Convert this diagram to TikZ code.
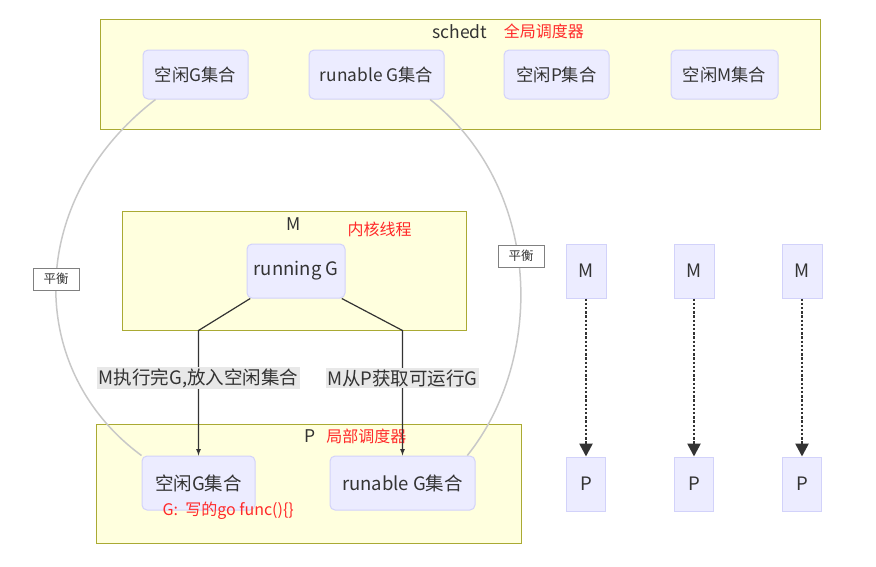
\documentclass[tikz,border=0pt]{standalone}
\usepackage{fontspec}
\setmainfont{Noto Sans CJK SC}
\usetikzlibrary{positioning,arrows.meta}
\definecolor{clfill}{HTML}{FFFFDE}
\definecolor{cldraw}{HTML}{AAAA33}
\definecolor{ndfill}{HTML}{ECECFF}
\definecolor{nddraw}{HTML}{D2D2FA}
\definecolor{txt}{HTML}{333333}
\definecolor{notered}{HTML}{FF2A2A}
\definecolor{lblfill}{HTML}{E8E8E8}
\definecolor{balgray}{HTML}{C8C8C8}

\begin{document}
\begin{tikzpicture}[
x=1pt,y=-1pt,
cluster/.style={
  draw=cldraw,
  fill=clfill,
  line width=1pt,
  inner sep=0pt
  },
cltitle/.style={
  text=txt,
  inner sep=1pt,
  font=\fontsize{17.5}{20}\selectfont
  },
note/.style={
  text=notered,
  inner sep=1pt,
  font=\fontsize{16}{19}\selectfont
  },
set/.style={
  draw=nddraw,
  fill=ndfill,
  rounded corners=5pt,
  line width=1pt,
  text=txt,
  inner sep=0pt,
  minimum height=54pt,
  font=\fontsize{18.5}{21}\selectfont
  },
topset/.style={
  set,
  minimum height=49pt,
  font=\fontsize{17.3}{20}\selectfont
  },
unit/.style={
  set,
  rounded corners=0pt,
  minimum width=40pt
  },
flow/.style={
  draw=txt,
  line width=1.2pt,
  ->
  },
dotflow/.style={
  draw=txt,
  line width=2.6pt,
  dash pattern=on 2.4pt off 1.8pt,
  -{Triangle[width=13pt,length=13pt]}
  },
balance/.style={
  draw=balgray,
  line width=1.5pt
  },
balbox/.style={
  draw=gray,
  fill=white,
  line width=0.8pt,
  text=txt,
  minimum width=46pt,
  minimum height=22pt,
  inner sep=0pt,
  font=\fontsize{12.5}{14}\selectfont
  },
elabel/.style={
  fill=lblfill,
  text=txt,
  inner sep=1.5pt,
  font=\fontsize{18.5}{21}\selectfont
  },
>=latex
]
\useasboundingbox (0,0) rectangle (876,566);

% global scheduler
\node[cluster, minimum width=720pt, minimum height=110pt] (schedt) at (460,74) {};
\node[cltitle, below=5pt of schedt.north] (schedtname) {schedt};
\node[note, right=14pt of schedtname] {全局调度器};
\node[topset, minimum width=105pt] (idleG) at (195.5,74.5) {空闲G集合};
\node[topset, minimum width=135pt, right=60pt of idleG] (runG) {runable G集合};
\node[topset, minimum width=105pt, right=59pt of runG] (idleP) {空闲P集合};
\node[topset, minimum width=107pt, right=61pt of idleP] (idleM) {空闲M集合};

% kernel thread
\node[cluster, minimum width=344pt, minimum height=119pt] (mbox) at (294,270.5) {};
\node[cltitle, below=6pt of mbox.north] (mname) {M};
\node[note, right=44pt of mname, yshift=-5pt] {内核线程};
\node[set, minimum width=98pt] (run) at (296,271) {running G};

% local scheduler
\node[cluster, minimum width=425pt, minimum height=119pt] (pbox) at (308.5,483.5) {};
\node[cltitle, below=5pt of pbox.north, xshift=2pt] (pname) {P};
\node[note, right=8pt of pname] {局部调度器};
\node[set, minimum width=113pt] (idlePG) at (198.5,483) {空闲G集合};
\node[set, minimum width=145pt] (runPG) at (402.5,483) {runable G集合};
\node[note, anchor=west] at ([xshift=20pt]idlePG.south west) {G:\ \ 写的go func()\{\}};

% M -> P pairs
\node[unit] (m1) at (586,271) {M};
\node[unit, right=67pt of m1] (m2) {M};
\node[unit, right=67pt of m2] (m3) {M};
\foreach \i in {1,2,3}
{
  \node[unit, minimum width=39pt, below=158pt of m\i] (p\i) {P};
  \draw[dotflow] (m\i) -- (p\i);
}

% running G to the local sets
\draw[flow] (run.211) -- (idlePG.north |- mbox.south)
  -- node[elabel, pos=0.38] {M执行完G,放入空闲集合} (idlePG.north);
\draw[flow] (run.329) -- (runPG.north |- mbox.south)
  -- node[elabel, pos=0.38] {M从P获取可运行G} (runPG.north);

% balancing between global and local
\draw[balance] (idleG.212) .. controls (25,200) and (25,370) .. (idlePG.north west)
  node[balbox, pos=0.49] {平衡};
\draw[balance] (runG.335) .. controls (544,190) and (544,360) .. (runPG.23)
  node[balbox, pos=0.45, xshift=3pt] {平衡};
\end{tikzpicture}
\end{document}
